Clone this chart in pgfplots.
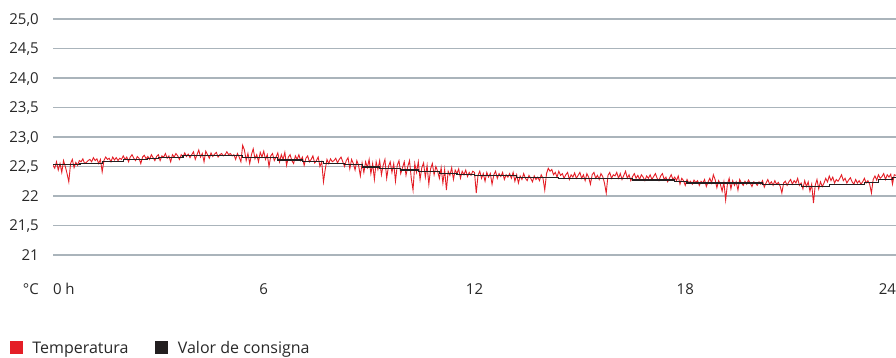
\documentclass[border=0pt]{standalone}
\usepackage{fontspec}
\setmainfont{Open Sans}
\usepackage{pgfplots}
\pgfplotsset{compat=1.18}
\definecolor{tred}{RGB}{228,30,38}
\definecolor{tblack}{RGB}{35,31,32}
\definecolor{tgrid}{RGB}{170,180,187}
\definecolor{ttext}{RGB}{40,40,40}
\begin{document}
\begin{tikzpicture}[font=\fontsize{15}{18}\selectfont]
\path[use as bounding box] (0,0) rectangle (896pt,358pt);
\begin{axis}[
  name=ax,
  at={(53pt,103pt)}, anchor=south west,
  scale only axis, width=843pt, height=236pt,
  xmin=0, xmax=24, ymin=21, ymax=25,
  axis line style={draw=none},
  /pgf/number format/assume math mode=true,
  ytick={21,21.5,22,22.5,23,23.5,24,24.5,25},
  yticklabels={21,{21,5},22,{22,5},{23,0},{23,5},{24,0},{24,5},{25,0}},
  xtick={0,6,12,18,24},
  xticklabels={\makebox[0pt][l]{0 h},6,12,18,\makebox[0pt][r]{24}},
  ymajorgrids, xmajorgrids=false,
  major grid style={tgrid, line width=1.2pt},
  major tick length=0pt,
  xticklabel shift=28pt,
  xticklabel style={anchor=north, inner sep=0pt, text=ttext},
  yticklabel style={anchor=base east, inner sep=0pt, xshift=-14pt, yshift=-5.4pt, text=ttext},
  legend style={at={(axis description cs:-0.051,-0.395)}, anchor=west, draw=none, fill=none,
    inner sep=0pt, outer sep=0pt, legend columns=2,
    font=\fontsize{16}{19}\selectfont,
    nodes={inner sep=0pt, text=ttext},
    /tikz/every odd column/.append style={column sep=10pt},
    /tikz/every even column/.append style={column sep=27pt}},
  legend cell align=left,
]
\addlegendimage{legend image code/.code={\fill[tred] (0pt,-5pt) rectangle (12pt,7pt);}}
\addlegendentry{Temperatura}
\addlegendimage{legend image code/.code={\fill[tblack] (0pt,-5pt) rectangle (12pt,7pt);}}
\addlegendentry{Valor de consigna}

\addplot[tred, line width=0.9pt, forget plot] table[x expr=\coordindex*0.05, y index=0, header=false, row sep=\\] {
22.52\\ 22.47\\ 22.58\\ 22.44\\ 22.55\\ 22.40\\ 22.60\\ 22.50\\ 22.38\\ 22.24\\ 22.55\\ 22.62\\ 22.48\\ 22.57\\ 22.52\\ 22.60\\ 22.58\\ 22.63\\ 22.55\\ 22.57\\
22.60\\ 22.62\\ 22.58\\ 22.65\\ 22.60\\ 22.63\\ 22.55\\ 22.62\\ 22.41\\ 22.60\\ 22.66\\ 22.62\\ 22.64\\ 22.58\\ 22.66\\ 22.61\\ 22.65\\ 22.60\\ 22.64\\ 22.62\\
22.68\\ 22.62\\ 22.66\\ 22.58\\ 22.66\\ 22.70\\ 22.64\\ 22.60\\ 22.67\\ 22.64\\ 22.55\\ 22.66\\ 22.69\\ 22.63\\ 22.67\\ 22.62\\ 22.70\\ 22.65\\ 22.60\\ 22.67\\
22.70\\ 22.60\\ 22.68\\ 22.66\\ 22.72\\ 22.64\\ 22.68\\ 22.58\\ 22.70\\ 22.66\\ 22.72\\ 22.68\\ 22.62\\ 22.70\\ 22.66\\ 22.73\\ 22.67\\ 22.71\\ 22.65\\ 22.70\\
22.75\\ 22.62\\ 22.70\\ 22.78\\ 22.66\\ 22.72\\ 22.58\\ 22.76\\ 22.70\\ 22.64\\ 22.73\\ 22.67\\ 22.71\\ 22.74\\ 22.66\\ 22.70\\ 22.72\\ 22.68\\ 22.70\\ 22.75\\
22.70\\ 22.72\\ 22.68\\ 22.70\\ 22.62\\ 22.72\\ 22.66\\ 22.58\\ 22.86\\ 22.78\\ 22.60\\ 22.72\\ 22.55\\ 22.70\\ 22.80\\ 22.63\\ 22.70\\ 22.58\\ 22.74\\ 22.66\\
22.76\\ 22.62\\ 22.70\\ 22.50\\ 22.68\\ 22.72\\ 22.60\\ 22.66\\ 22.73\\ 22.58\\ 22.70\\ 22.62\\ 22.74\\ 22.52\\ 22.66\\ 22.70\\ 22.60\\ 22.55\\ 22.68\\ 22.62\\
22.70\\ 22.60\\ 22.66\\ 22.52\\ 22.64\\ 22.68\\ 22.58\\ 22.62\\ 22.68\\ 22.56\\ 22.60\\ 22.66\\ 22.50\\ 22.58\\ 22.24\\ 22.45\\ 22.62\\ 22.55\\ 22.63\\ 22.58\\
22.60\\ 22.64\\ 22.56\\ 22.62\\ 22.66\\ 22.58\\ 22.50\\ 22.60\\ 22.65\\ 22.46\\ 22.62\\ 22.55\\ 22.44\\ 22.60\\ 22.52\\ 22.34\\ 22.56\\ 22.40\\ 22.58\\ 22.48\\
22.62\\ 22.38\\ 22.55\\ 22.28\\ 22.58\\ 22.45\\ 22.60\\ 22.36\\ 22.52\\ 22.62\\ 22.30\\ 22.50\\ 22.58\\ 22.40\\ 22.55\\ 22.25\\ 22.52\\ 22.60\\ 22.38\\ 22.48\\
22.58\\ 22.35\\ 22.50\\ 22.60\\ 22.30\\ 22.10\\ 22.55\\ 22.40\\ 22.58\\ 22.28\\ 22.48\\ 22.56\\ 22.32\\ 22.52\\ 22.20\\ 22.46\\ 22.55\\ 22.36\\ 22.50\\ 22.42\\
22.30\\ 22.48\\ 22.22\\ 22.45\\ 22.10\\ 22.42\\ 22.35\\ 22.48\\ 22.28\\ 22.44\\ 22.38\\ 22.46\\ 22.30\\ 22.42\\ 22.36\\ 22.44\\ 22.33\\ 22.40\\ 22.35\\ 22.42\\
22.40\\ 22.05\\ 22.35\\ 22.42\\ 22.30\\ 22.38\\ 22.25\\ 22.40\\ 22.32\\ 22.38\\ 22.20\\ 22.36\\ 22.42\\ 22.30\\ 22.38\\ 22.33\\ 22.40\\ 22.28\\ 22.36\\ 22.32\\
22.38\\ 22.30\\ 22.40\\ 22.25\\ 22.36\\ 22.22\\ 22.34\\ 22.28\\ 22.38\\ 22.30\\ 22.26\\ 22.35\\ 22.30\\ 22.24\\ 22.34\\ 22.28\\ 22.32\\ 22.26\\ 22.36\\ 22.30\\
22.10\\ 22.38\\ 22.47\\ 22.42\\ 22.45\\ 22.36\\ 22.40\\ 22.32\\ 22.42\\ 22.35\\ 22.38\\ 22.30\\ 22.36\\ 22.40\\ 22.28\\ 22.36\\ 22.32\\ 22.39\\ 22.30\\ 22.35\\
22.40\\ 22.30\\ 22.36\\ 22.26\\ 22.38\\ 22.32\\ 22.20\\ 22.36\\ 22.40\\ 22.30\\ 22.35\\ 22.28\\ 22.38\\ 22.33\\ 22.22\\ 22.05\\ 22.35\\ 22.40\\ 22.30\\ 22.36\\
22.34\\ 22.40\\ 22.30\\ 22.38\\ 22.28\\ 22.35\\ 22.42\\ 22.30\\ 22.36\\ 22.26\\ 22.33\\ 22.38\\ 22.30\\ 22.35\\ 22.28\\ 22.36\\ 22.32\\ 22.26\\ 22.34\\ 22.30\\
22.36\\ 22.28\\ 22.33\\ 22.38\\ 22.30\\ 22.26\\ 22.34\\ 22.38\\ 22.28\\ 22.32\\ 22.24\\ 22.30\\ 22.36\\ 22.28\\ 22.32\\ 22.26\\ 22.34\\ 22.20\\ 22.30\\ 22.26\\
22.18\\ 22.28\\ 22.22\\ 22.25\\ 22.20\\ 22.27\\ 22.23\\ 22.26\\ 22.18\\ 22.25\\ 22.22\\ 22.28\\ 22.16\\ 22.24\\ 22.30\\ 22.22\\ 22.36\\ 22.28\\ 22.14\\ 22.26\\
22.20\\ 22.08\\ 22.24\\ 21.93\\ 22.20\\ 22.30\\ 22.12\\ 22.26\\ 22.18\\ 22.24\\ 22.10\\ 22.28\\ 22.22\\ 22.18\\ 22.25\\ 22.20\\ 22.27\\ 22.22\\ 22.16\\ 22.24\\
22.22\\ 22.18\\ 22.24\\ 22.20\\ 22.26\\ 22.15\\ 22.22\\ 22.28\\ 22.20\\ 22.24\\ 22.18\\ 22.26\\ 22.20\\ 22.23\\ 22.17\\ 22.05\\ 22.22\\ 22.25\\ 22.18\\ 22.24\\
22.28\\ 22.20\\ 22.26\\ 22.22\\ 22.30\\ 22.18\\ 22.22\\ 22.12\\ 22.26\\ 22.16\\ 22.24\\ 22.08\\ 22.20\\ 21.88\\ 22.18\\ 22.28\\ 22.12\\ 22.24\\ 22.16\\ 22.22\\
22.30\\ 22.24\\ 22.34\\ 22.26\\ 22.32\\ 22.22\\ 22.28\\ 22.25\\ 22.30\\ 22.36\\ 22.26\\ 22.30\\ 22.22\\ 22.27\\ 22.31\\ 22.24\\ 22.20\\ 22.28\\ 22.22\\ 22.26\\
22.20\\ 22.24\\ 22.30\\ 22.22\\ 22.26\\ 22.20\\ 22.05\\ 22.28\\ 22.34\\ 22.27\\ 22.36\\ 22.30\\ 22.33\\ 22.38\\ 22.28\\ 22.36\\ 22.32\\ 22.37\\ 22.20\\ 22.36\\
22.35\\
};

\addplot[tblack, line width=1.2pt, const plot, forget plot] coordinates {
(0,22.53) (0.77,22.55) (1.4,22.59) (2.0,22.62) (2.7,22.63) (3.0,22.65) (3.7,22.68)
(5.4,22.65) (6.4,22.61) (7.1,22.58) (7.7,22.55) (8.3,22.53) (8.8,22.49) (9.3,22.47)
(9.9,22.44) (10.4,22.42) (11.0,22.38) (11.5,22.36) (12.0,22.35) (13.2,22.31) (14.4,22.29)
(16.5,22.27) (17.7,22.25) (18.05,22.22) (20.2,22.19) (21.3,22.16) (22.1,22.19) (23.1,22.23) (23.5,22.28)
(23.9,22.31) (24,22.31)
};
\end{axis}
\node[anchor=north east, inner sep=0pt, text=ttext, xshift=-14pt, yshift=-28pt] at (ax.south west) {°C};
\end{tikzpicture}
\end{document}
